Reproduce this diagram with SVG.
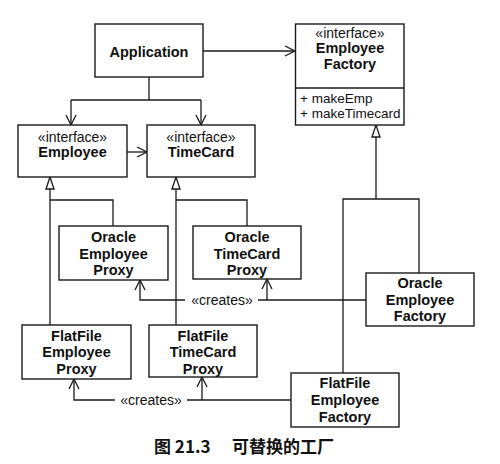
<svg xmlns="http://www.w3.org/2000/svg" width="500" height="464" viewBox="0 0 500 464">
<defs>
<style>
.box{fill:#fff;stroke:#1a1a1a;stroke-width:1.4}
.b{font-family:"Liberation Sans",Arial,sans-serif;font-weight:bold;font-size:14.5px;fill:#111;text-anchor:middle}
.r{font-family:"Liberation Sans",Arial,sans-serif;font-size:14px;fill:#111;text-anchor:middle}
.m{font-family:"Liberation Sans",Arial,sans-serif;font-size:13.5px;fill:#111}
.ln{fill:none;stroke:#1a1a1a;stroke-width:1.3}
.cap{font-family:"Noto Sans CJK SC",sans-serif;font-size:17px;font-weight:bold;fill:#111}
</style>
<marker id="open" viewBox="0 0 12 12" refX="11" refY="6" markerWidth="12" markerHeight="12" markerUnits="userSpaceOnUse" orient="auto">
<path d="M1,1 L11,6 L1,11" fill="none" stroke="#1a1a1a" stroke-width="1.3"/>
</marker>
<marker id="tri" viewBox="0 0 14 12" refX="13" refY="6" markerWidth="14" markerHeight="12" markerUnits="userSpaceOnUse" orient="auto">
<path d="M1,2 L13,6 L1,10 Z" fill="#fff" stroke="#1a1a1a" stroke-width="1.3"/>
</marker>
</defs>
<rect width="500" height="464" fill="#fff"/>

<g id="connectors">
<path class="ln" d="M203,51 H295" marker-end="url(#open)"/>
<path class="ln" d="M149,77 V100"/>
<path class="ln" d="M71,100 H201"/>
<path class="ln" d="M71,100 V125" marker-end="url(#open)"/>
<path class="ln" d="M201,100 V125" marker-end="url(#open)"/>
<path class="ln" d="M127,152 H147" marker-end="url(#open)"/>
<path class="ln" d="M50,325 V177" marker-end="url(#tri)"/>
<path class="ln" d="M50,200 H113 V226"/>
<path class="ln" d="M176,325 V177" marker-end="url(#tri)"/>
<path class="ln" d="M176,200 H247 V226"/>
<path class="ln" d="M376,199 V125" marker-end="url(#tri)"/>
<path class="ln" d="M343,373 V199 H419 V273"/>
<path class="ln" d="M366,300 H258"/>
<path class="ln" d="M185,300 H140 V280" marker-end="url(#open)"/>
<path class="ln" d="M267,300 V279" marker-end="url(#open)"/>
<text class="r" x="222" y="305">«creates»</text>
<path class="ln" d="M291,400 H187"/>
<path class="ln" d="M115,400 H74 V379" marker-end="url(#open)"/>
<path class="ln" d="M202,400 V377" marker-end="url(#open)"/>
<text class="r" x="151" y="405">«creates»</text>
</g>

<g id="application">
<rect class="box" x="95" y="24" width="108" height="53"/>
<text class="b" x="149" y="57">Application</text>
</g>

<g id="employee-factory">
<rect class="box" x="295.5" y="24" width="108.5" height="101"/>
<line class="ln" x1="295.5" y1="88" x2="404" y2="88"/>
<text class="r" x="350" y="37.5">«interface»</text>
<text class="b" x="350" y="53">Employee</text>
<text class="b" x="350" y="69">Factory</text>
<text class="m" x="300" y="103">+ makeEmp</text>
<text class="m" x="300" y="118">+ makeTimecard</text>
</g>

<g id="employee">
<rect class="box" x="18" y="125" width="109" height="52"/>
<text class="r" x="72.5" y="141.5">«interface»</text>
<text class="b" x="72.5" y="157">Employee</text>
</g>

<g id="timecard">
<rect class="box" x="147" y="125" width="108" height="52"/>
<text class="r" x="201" y="141.5">«interface»</text>
<text class="b" x="201" y="157">TimeCard</text>
</g>

<g id="oracle-employee-proxy">
<rect class="box" x="59" y="226" width="109" height="54"/>
<text class="b" x="113.5" y="242">Oracle</text>
<text class="b" x="113.5" y="259">Employee</text>
<text class="b" x="113.5" y="275">Proxy</text>
</g>

<g id="oracle-timecard-proxy">
<rect class="box" x="193" y="226" width="108" height="53"/>
<text class="b" x="247" y="242">Oracle</text>
<text class="b" x="247" y="259">TimeCard</text>
<text class="b" x="247" y="275">Proxy</text>
</g>

<g id="oracle-employee-factory">
<rect class="box" x="366" y="273" width="108" height="53"/>
<text class="b" x="420" y="288">Oracle</text>
<text class="b" x="420" y="305">Employee</text>
<text class="b" x="420" y="321">Factory</text>
</g>

<g id="flatfile-employee-proxy">
<rect class="box" x="22" y="325" width="109" height="54"/>
<text class="b" x="76.5" y="341">FlatFile</text>
<text class="b" x="76.5" y="357">Employee</text>
<text class="b" x="76.5" y="374">Proxy</text>
</g>

<g id="flatfile-timecard-proxy">
<rect class="box" x="149" y="325" width="108" height="52"/>
<text class="b" x="203" y="341">FlatFile</text>
<text class="b" x="203" y="357">TimeCard</text>
<text class="b" x="203" y="374">Proxy</text>
</g>

<g id="flatfile-employee-factory">
<rect class="box" x="291" y="373" width="108" height="54"/>
<text class="b" x="345" y="388">FlatFile</text>
<text class="b" x="345" y="405">Employee</text>
<text class="b" x="345" y="422">Factory</text>
</g>

<text class="cap" y="453"><tspan x="154">图 21.3</tspan><tspan x="232">可替换的工厂</tspan></text>
</svg>
